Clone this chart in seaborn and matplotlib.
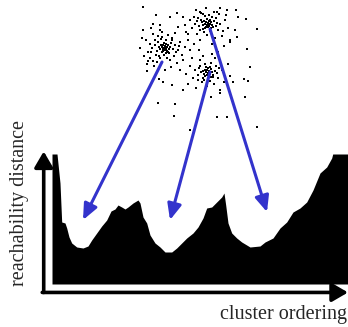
import matplotlib
matplotlib.use("Agg")
import matplotlib.pyplot as plt
import seaborn as sns
import pandas as pd
from matplotlib.patches import ConnectionPatch

sns.set_style("white")
plt.rcParams["font.family"] = ["Liberation Serif", "DejaVu Serif"]

# reachability profile: cluster ordering index vs reachability distance
order = [0, 5, 8, 9.7, 13, 14.7, 17, 19.7, 24.7, 31, 36, 39.7, 44.7, 49.7, 54.7,
         59, 63, 66, 69.7, 73, 76, 81, 86, 88, 91, 94.7, 98, 103, 108, 113,
         119.7, 124.7, 129.7, 134.7, 141, 146, 151, 154.7, 159.7, 164.7, 169.7,
         172, 173.7, 176, 179.7, 184.7, 189.7, 198, 208, 213, 221, 228, 234.7,
         241, 248, 254.7, 261, 268, 274.7, 279.7, 280.7, 296]
reach = [130, 130, 101, 62, 61, 56, 47, 41, 37, 36, 38, 44, 51, 58, 64,
         73, 75, 79, 77, 75, 77, 81, 84, 81, 67, 61, 49, 41, 37, 32,
         32, 36, 41, 46, 51, 57, 66, 76, 77, 82, 87,
         91, 79, 61, 51, 46, 42, 37, 38, 42, 46, 56, 62,
         72, 76, 82, 94, 111, 117, 126, 130, 130]

# 2-d point cloud (picture coords)
pts_x = [163, 165, 167, 164, 166, 162, 168, 165, 163, 167, 160, 169, 164, 166, 161, 170, 162, 166, 159, 168, 165, 163,
         155, 172, 158, 175, 152, 178, 156, 174, 150, 180, 160, 170, 148, 182, 153, 168, 146, 185, 157, 177, 150, 188,
         162, 175, 144, 183, 154, 171, 186, 190, 140, 147, 180, 165, 192, 143, 160, 178, 153, 185,
         158, 171, 161, 169, 157, 173, 164, 166, 159, 172, 155, 176, 167, 162, 151, 179,
         206, 208, 210, 207, 209, 205, 211, 208, 204, 212, 206, 210, 203, 209, 207, 213, 205, 211, 202, 208,
         198, 216, 200, 218, 195, 220, 203, 214, 197, 222, 192, 225, 207, 215, 200, 190, 228, 196, 220, 206,
         230, 188, 212, 224, 194, 235, 199, 218,
         201, 214, 203, 216, 199, 212, 205, 210, 197, 217, 204, 219, 209, 201, 194, 223,
         207, 209, 208, 206, 210, 205, 211, 208, 204, 212, 207, 209, 203, 213, 206, 210, 205, 211,
         200, 216, 198, 218, 202, 214, 195, 222, 200, 215, 193, 224, 207, 190, 196, 220, 228, 186, 203, 212, 230, 188,
         201, 215, 203, 213, 199, 217, 205, 211, 198, 219, 210, 204,
         143, 156, 170, 177, 183, 200, 217, 227, 226, 236, 238, 246, 257, 237, 230, 247, 250, 244, 248, 233,
         220, 245, 211, 200, 217, 227, 257, 190, 174, 175, 158, 183, 172, 163, 159, 147, 148, 153, 142, 151, 160]
pts_y = [45, 46, 47, 48, 49, 47, 45, 50, 51, 51, 49, 49, 43, 44, 45, 47, 52, 53, 47, 52, 47, 49,
         40, 40, 36, 45, 48, 50, 55, 56, 44, 42, 58, 60, 52, 55, 34, 35, 40, 47, 62, 63, 58, 40,
         32, 33, 56, 60, 66, 67, 32, 50, 48, 64, 70, 70, 58, 30, 25, 27, 24, 25,
         42, 43, 39, 53, 51, 49, 55, 40, 56, 38, 45, 52, 58, 37, 52, 46,
         22, 23, 24, 25, 26, 24, 22, 27, 21, 25, 27, 20, 25, 21, 19, 27, 28, 28, 22, 25,
         18, 18, 30, 30, 24, 24, 14, 12, 34, 36, 28, 20, 35, 38, 40, 20, 28, 10, 8, 8,
         40, 34, 44, 46, 44, 30, 50, 52,
         20, 21, 29, 26, 26, 17, 16, 31, 21, 23, 32, 14, 15, 13, 17, 31,
         70, 71, 73, 72, 74, 70, 69, 68, 74, 72, 75, 76, 71, 75, 67, 67, 76, 77,
         66, 66, 75, 78, 82, 84, 70, 70, 60, 58, 78, 82, 86, 66, 88, 90, 64, 74, 56, 54, 76, 84,
         72, 71, 78, 77, 68, 73, 64, 63, 80, 68, 81, 80,
         7, 15, 17, 13, 17, 12, 12, 10, 15, 10, 17, 19, 29, 37, 42, 49, 67, 79, 81, 82,
         93, 97, 97, 108, 117, 117, 127, 130, 116, 104, 103, 90, 85, 82, 79, 71, 61, 61, 38, 28, 30]

# arrows: point in cloud -> ordering position / reachability
arrow_from = [(162, 62), (210, 72), (210, 29)]
arrow_to = [(31, 64), (118, 64), (215, 72)]

W, H = 348, 327
fig = plt.figure(figsize=(W / 100, H / 100), dpi=100)

ax_r = fig.add_axes([52 / W, (H - 284) / H, 296 / W, 130 / H])
ax_r.fill_between(order, 0, reach, color="black", linewidth=0)
ax_r.set_xlim(0, 296)
ax_r.set_ylim(0, 130)
ax_r.axis("off")

# axis arrows
head = "-|>,head_length=0.6,head_width=0.35"
ax_r.annotate("", xy=(-0.028, 1.02), xytext=(-0.028, -0.065), xycoords="axes fraction",
              arrowprops=dict(arrowstyle=head, lw=2.6, color="black", mutation_scale=16,
                              shrinkA=0, shrinkB=0), annotation_clip=False)
ax_r.annotate("", xy=(1.0, -0.065), xytext=(-0.033, -0.065), xycoords="axes fraction",
              arrowprops=dict(arrowstyle=head, lw=2.6, color="black", mutation_scale=16,
                              shrinkA=0, shrinkB=0), annotation_clip=False)

ax_s = fig.add_axes([0, 0, 1, 1])
ax_s.patch.set_alpha(0)
df = pd.DataFrame({"x": pts_x, "y": pts_y})
sns.scatterplot(data=df, x="x", y="y", ax=ax_s, color="black", marker="s", s=3.5,
                linewidth=0, legend=False)
ax_s.set_xlim(0, W)
ax_s.set_ylim(H, 0)
ax_s.axis("off")

for a, b in zip(arrow_from, arrow_to):
    con = ConnectionPatch(xyA=a, coordsA=ax_s.transData, xyB=b, coordsB=ax_r.transData,
                          arrowstyle="-|>,head_length=0.8,head_width=0.35", mutation_scale=12,
                          color="#3333cc", lw=2.2, shrinkA=0, shrinkB=0)
    fig.add_artist(con)

fig.text(20 / W, 1 - 203 / H, "reachability distance", rotation=90, ha="center", va="center",
         fontsize=14.5)
fig.text(347 / W, 1 - 315 / H, "cluster ordering", ha="right", va="center", fontsize=14.5)

fig.savefig("out.png", dpi=100)
